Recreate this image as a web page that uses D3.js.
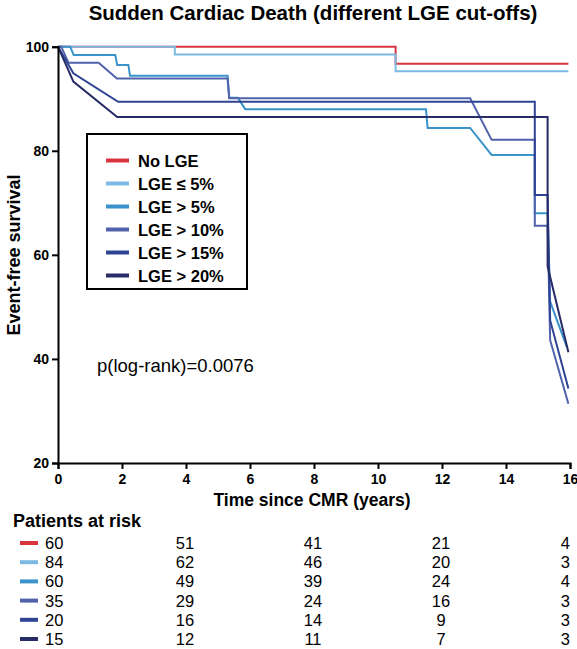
<!DOCTYPE html>
<html>
<head>
<meta charset="utf-8">
<script src="https://cdn.jsdelivr.net/npm/d3@7"></script>
<style>
  html, body { margin: 0; padding: 0; background: #fff; }
  svg { display: block; }
  text { font-family: "Liberation Sans", Arial, sans-serif; }
</style>
</head>
<body>
<svg id="chart" width="577" height="649"></svg>
<script>
// ---------- data ----------
const seriesNames = ["No LGE", "LGE \u2264 5%", "LGE > 5%", "LGE > 10%", "LGE > 15%", "LGE > 20%"];
const seriesColors = ["#d8343e", "#7db9e2", "#3a93ca", "#5062ac", "#2f4394", "#272b66"];

// Kaplan-Meier curves (time in years, survival in %)
const tNoLGE = [0, 10.55, 10.55, 15.95];
const sNoLGE = [100, 100, 96.7, 96.7];

const tLE5 = [0, 3.65, 3.65, 10.55, 10.55, 15.95];
const sLE5 = [100, 100, 98.5, 98.5, 95.3, 95.3];

const tGT5 = [0, 0.38, 0.49, 1.79, 1.85, 2.2, 2.25, 5.3, 5.35, 5.62, 5.85, 11.5, 11.55, 12.88, 13.55, 14.9, 14.9, 15.3, 15.38, 15.9];
const sGT5 = [100, 100, 98.4, 98.4, 96.5, 96.5, 94.4, 94.4, 90.2, 90.2, 88.0, 88.0, 84.4, 84.4, 79.2, 79.2, 68.0, 68.0, 51.0, 42.3];

const tGT10 = [0, 0.1, 0.33, 1.27, 1.84, 5.3, 5.35, 12.88, 13.55, 14.9, 14.9, 15.3, 15.38, 15.95];
const sGT10 = [100, 100, 96.9, 96.9, 93.9, 93.9, 90.1, 90.1, 82.1, 82.1, 65.6, 65.6, 43.6, 31.4];

const tGT15 = [0, 0.48, 1.88, 14.9, 14.9, 15.3, 15.38, 15.95];
const sGT15 = [100, 94.9, 89.4, 89.4, 71.5, 71.5, 47.4, 34.3];

const tGT20 = [0, 0.48, 1.85, 15.3, 15.3, 15.95];
const sGT20 = [100, 93.3, 86.5, 86.5, 57.8, 41.3];

const curveTimes = [tNoLGE, tLE5, tGT5, tGT10, tGT15, tGT20];
const curveSurv = [sNoLGE, sLE5, sGT5, sGT10, sGT15, sGT20];

const xTicks = [0, 2, 4, 6, 8, 10, 12, 14, 16];
const yTicks = [20, 40, 60, 80, 100];

// Patients at risk
const riskTimes = [0, 4, 8, 12, 16];
const riskNoLGE = [60, 51, 41, 21, 4];
const riskLE5 = [84, 62, 46, 20, 3];
const riskGT5 = [60, 49, 39, 24, 4];
const riskGT10 = [35, 29, 24, 16, 3];
const riskGT15 = [20, 16, 14, 9, 3];
const riskGT20 = [15, 12, 11, 7, 3];
const riskRows = [riskNoLGE, riskLE5, riskGT5, riskGT10, riskGT15, riskGT20];

const titleText = "Sudden Cardiac Death (different LGE cut-offs)";
const pText = "p(log-rank)=0.0076";

// ---------- drawing ----------
const svg = d3.select("#chart");

const x = d3.scaleLinear().domain([0, 16]).range([58, 570]);
const y = d3.scaleLinear().domain([20, 100]).range([463, 46.7]);

// title
svg.append("text")
  .attr("x", 313).attr("y", 20)
  .attr("text-anchor", "middle")
  .attr("font-size", 20.5).attr("font-weight", "bold")
  .text(titleText);

// curves
const line = d3.line().x(d => x(d[0])).y(d => y(d[1]));
curveTimes.forEach((ts, i) => {
  const pts = ts.map((t, j) => [t, curveSurv[i][j]]);
  svg.append("path")
    .datum(pts)
    .attr("d", line)
    .attr("fill", "none")
    .attr("stroke", seriesColors[i])
    .attr("stroke-width", 2);
});

// axes
const yAxis = svg.append("g")
  .attr("transform", `translate(${x(0)},0)`)
  .call(d3.axisLeft(y).tickValues(yTicks).tickSize(6).tickPadding(3));
const xAxis = svg.append("g")
  .attr("transform", `translate(0,${y(20)})`)
  .call(d3.axisBottom(x).tickValues(xTicks).tickSize(6).tickPadding(5));
[yAxis, xAxis].forEach(g => {
  g.select(".domain").attr("stroke", "#000").attr("stroke-width", 2);
  g.selectAll(".tick line").attr("stroke", "#000").attr("stroke-width", 2);
  g.selectAll(".tick text")
    .attr("fill", "#000")
    .attr("font-size", 14).attr("font-weight", "bold")
    .attr("font-family", "'Liberation Sans', Arial, sans-serif");
});

// axis labels
svg.append("text")
  .attr("x", 312).attr("y", 506)
  .attr("text-anchor", "middle")
  .attr("font-size", 17.5).attr("font-weight", "bold")
  .text("Time since CMR (years)");
svg.append("text")
  .attr("transform", "translate(20,255) rotate(-90)")
  .attr("text-anchor", "middle")
  .attr("font-size", 18).attr("font-weight", "bold")
  .text("Event-free survival");

// p-value
svg.append("text")
  .attr("x", 97).attr("y", 372)
  .attr("font-size", 18.5)
  .attr("font-family", "'Open Sans', sans-serif")
  .text(pText);

// legend
const leg = svg.append("g");
leg.append("rect")
  .attr("x", 87).attr("y", 134).attr("width", 160).attr("height", 155)
  .attr("fill", "#fff").attr("stroke", "#000").attr("stroke-width", 2);
seriesNames.forEach((name, i) => {
  const cy = 160.5 + i * 23;
  leg.append("line")
    .attr("x1", 106).attr("x2", 129).attr("y1", cy).attr("y2", cy)
    .attr("stroke", seriesColors[i]).attr("stroke-width", 4);
  leg.append("text")
    .attr("x", 138).attr("y", cy + 6)
    .attr("font-size", 16.5).attr("font-weight", "bold")
    .text(name);
});

// patients at risk
svg.append("text")
  .attr("x", 13).attr("y", 527)
  .attr("font-size", 18).attr("font-weight", "bold")
  .text("Patients at risk");
riskRows.forEach((row, i) => {
  const cy = 543 + i * 19.2;
  svg.append("line")
    .attr("x1", 20).attr("x2", 38).attr("y1", cy).attr("y2", cy)
    .attr("stroke", seriesColors[i]).attr("stroke-width", 4);
  row.forEach((v, j) => {
    const t = riskTimes[j];
    let anchor = "middle", px = x(t) - 1;
    if (j === 0) { anchor = "start"; px = 45; }
    if (j === row.length - 1) { anchor = "end"; px = 570; }
    svg.append("text")
      .attr("x", px).attr("y", cy + 6)
      .attr("text-anchor", anchor)
      .attr("font-size", 16.5)
      .text(v);
  });
});
</script>
</body>
</html>
